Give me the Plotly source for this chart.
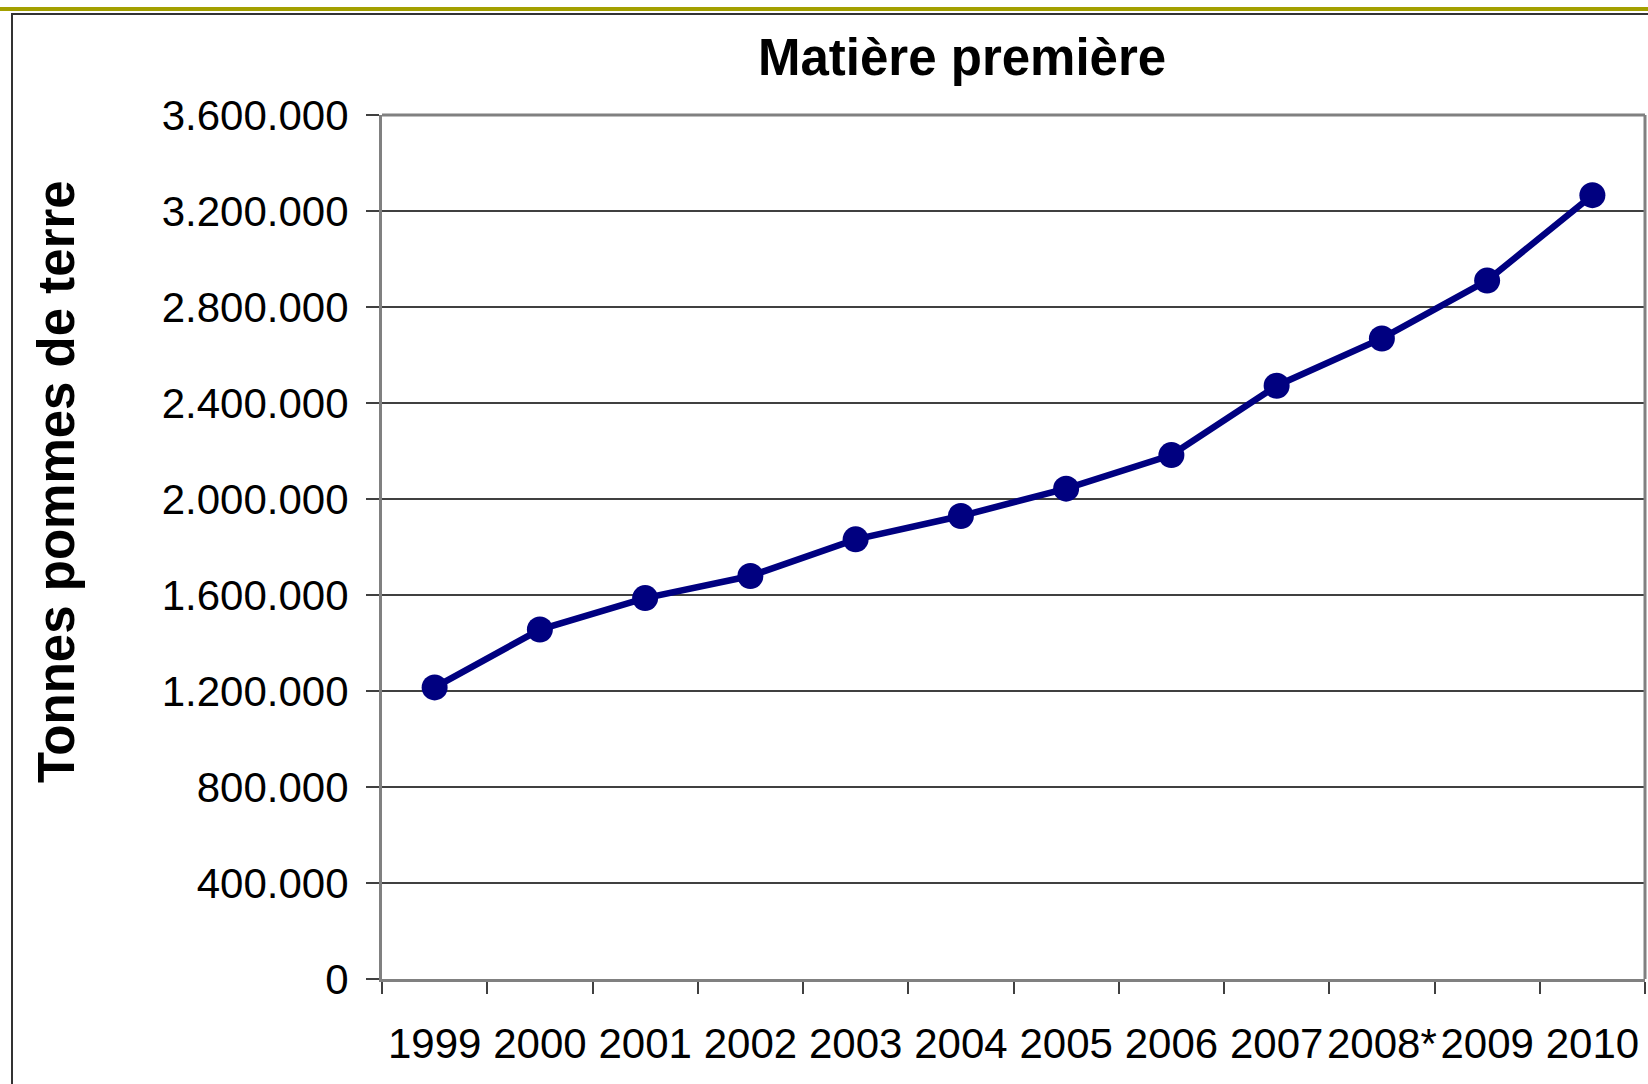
import plotly.graph_objects as go

# ── Data ──────────────────────────────────────────────────────────
YEARS = ["1999", "2000", "2001", "2002", "2003", "2004",
         "2005", "2006", "2007", "2008*", "2009", "2010"]
TONNES = [1215000, 1456000, 1587000, 1679000, 1832000, 1929000,
          2043000, 2183000, 2472000, 2669000, 2910000, 3266000]
Y_TICKS = [0, 400000, 800000, 1200000, 1600000, 2000000,
           2400000, 2800000, 3200000, 3600000]

# ── Layout in pixels ──────────────────────────────────────────────
W, H = 1648, 1084
L, R, T, B = 382, 3, 115, 105
PW, PH = W - L - R, H - T - B

NAVY = "#000080"
FONT = "Liberation Sans, Arial, sans-serif"


def px_x(x):
    return (x - L) / PW


def px_y(y):
    return (H - B - y) / PH


fig = go.Figure(go.Scatter(
    x=YEARS, y=TONNES, mode="lines+markers",
    line=dict(color=NAVY, width=6.5),
    marker=dict(color=NAVY, size=26),
    showlegend=False, cliponaxis=False,
    hovertemplate="%{x}: %{y:,d}<extra></extra>",
))

fig.update_layout(
    width=W, height=H,
    margin=dict(l=L, r=R, t=T, b=B, pad=0, autoexpand=False),
    paper_bgcolor="white", plot_bgcolor="white",
    separators=",.",
    font=dict(family=FONT, size=42, color="black"),
    xaxis=dict(
        type="category", tickson="boundaries", showgrid=False,
        ticks="outside", ticklen=12, tickwidth=2, tickcolor="#404040",
        showline=True, linecolor="#808080", linewidth=3, mirror=False,
        ticklabelstandoff=26, tickfont=dict(size=42), tickangle=0,
        automargin=False, range=[-0.5, 11.5],
    ),
    yaxis=dict(
        range=[0, 3600000], tickvals=Y_TICKS, tickformat=",d",
        ticks="outside", ticklen=13, tickwidth=2, tickcolor="#404040",
        showgrid=True, gridcolor="#404040", gridwidth=1.5,
        showline=True, linecolor="#808080", linewidth=3,
        zeroline=False, ticklabelstandoff=9, tickfont=dict(size=42),
        automargin=False,
    ),
)

# title and vertical axis label
fig.add_annotation(
    text="<b>Matière première</b>", x=px_x(962), y=px_y(58),
    xref="paper", yref="paper", showarrow=False,
    xanchor="center", yanchor="middle",
    font=dict(size=51, family=FONT, color="black"),
)
fig.add_annotation(
    text="<b>Tonnes pommes de terre</b>", x=px_x(56), y=px_y(482),
    xref="paper", yref="paper", showarrow=False, textangle=-90,
    xanchor="center", yanchor="middle",
    font=dict(size=51, family=FONT, color="black"),
)

# plot frame top / right
fig.add_shape(type="line", xref="paper", yref="paper", x0=0, x1=1, y0=1, y1=1,
              line=dict(color="#808080", width=3))
fig.add_shape(type="line", xref="paper", yref="paper", x0=1, x1=1, y0=0, y1=1,
              line=dict(color="#808080", width=3))

# outer chart border and olive rule at the top
fig.add_shape(type="rect", xref="paper", yref="paper",
              x0=px_x(12), x1=px_x(1700), y0=px_y(14), y1=px_y(1120),
              line=dict(color="#333333", width=2), layer="below")
fig.add_shape(type="line", xref="paper", yref="paper",
              x0=px_x(0), x1=px_x(1700), y0=px_y(9), y1=px_y(9),
              line=dict(color="#A3A000", width=4))

# drop the browser's default body margin so the figure sits at the page corner
fig.write_html("out.html", config={"displayModeBar": False}, post_script=(
    "document.body.style.margin='0';"
    "document.body.style.overflow='hidden';"
))
